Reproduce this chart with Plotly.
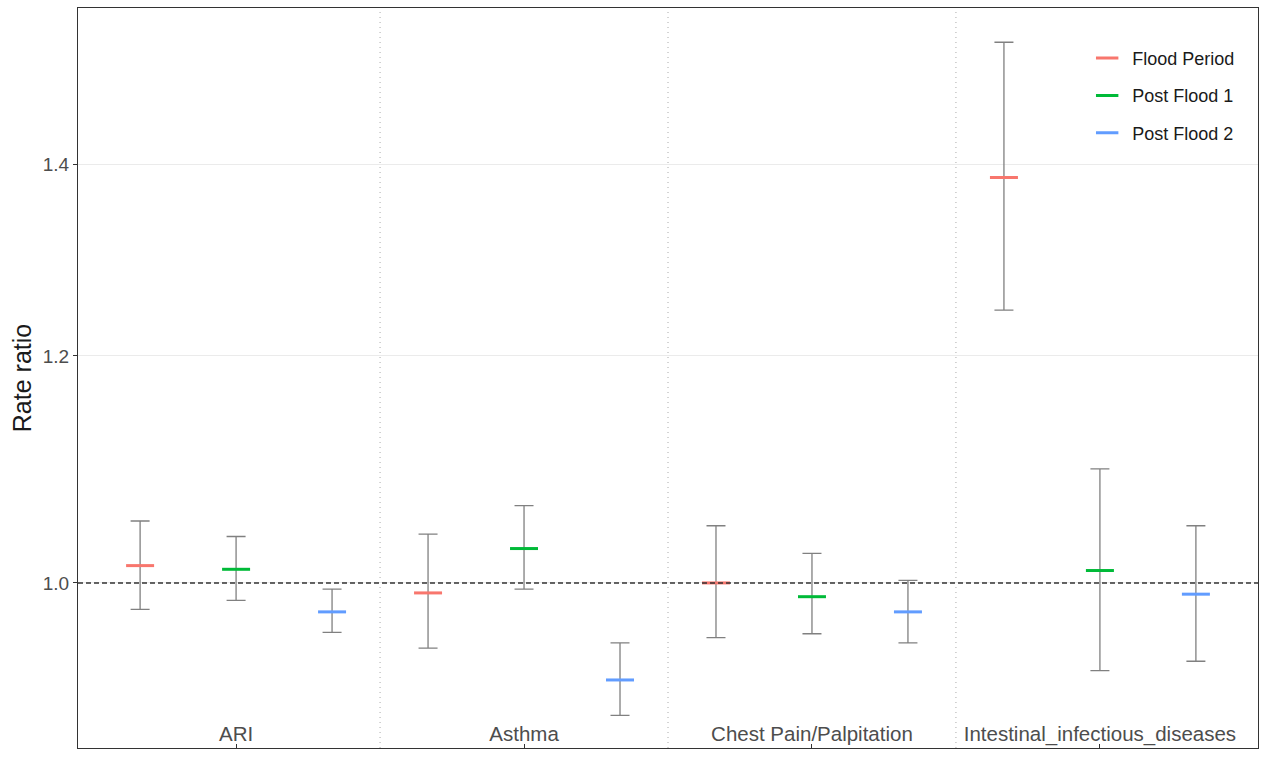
import plotly.graph_objects as go

categories = ["ARI", "Asthma", "Chest Pain/Palpitation", "Intestinal_infectious_diseases"]
periods = ["Flood Period", "Post Flood 1", "Post Flood 2"]
colors = ["#F8766D", "#00BA38", "#619CFF"]

# rate ratio estimates and 95% CI per period (order of categories)
rr = {
    "Flood Period": [1.014, 0.992, 1.000, 1.385],
    "Post Flood 1": [1.011, 1.028, 0.989, 1.010],
    "Post Flood 2": [0.977, 0.925, 0.977, 0.991],
}
lower = {
    "Flood Period": [0.979, 0.949, 0.957, 1.245],
    "Post Flood 1": [0.986, 0.995, 0.960, 0.932],
    "Post Flood 2": [0.961, 0.899, 0.953, 0.939],
}
upper = {
    "Flood Period": [1.051, 1.040, 1.047, 1.544],
    "Post Flood 1": [1.038, 1.064, 1.024, 1.096],
    "Post Flood 2": [0.995, 0.953, 1.002, 1.047],
}

y_ticks = [1.0, 1.2, 1.4]

fig = go.Figure()
for p, c in zip(periods, colors):
    y = rr[p]
    fig.add_trace(go.Scatter(
        x=categories, y=y, name=p, mode="markers", legendgroup=p,
        marker=dict(symbol="line-ew", size=20, color=c, line=dict(color=c, width=3)),
        error_y=dict(type="data", symmetric=False,
                     array=[u - v for u, v in zip(upper[p], y)],
                     arrayminus=[v - l for v, l in zip(y, lower[p])],
                     color="#808080", thickness=1.3, width=9.5),
    ))

shapes = [dict(type="line", xref="paper", x0=0, x1=1, yref="y", y0=1, y1=1,
               line=dict(color="#333333", width=1.5, dash="5px,3px"), layer="above")]
for i in range(len(categories) - 1):
    shapes.append(dict(type="line", xref="x", x0=i + 0.5, x1=i + 0.5, yref="paper", y0=0, y1=1,
                       line=dict(color="#aaaaaa", width=1, dash="1px,4px"), layer="below"))

fig.update_layout(
    width=1264, height=761,
    margin=dict(l=78, r=6, t=8, b=13),
    paper_bgcolor="white", plot_bgcolor="white",
    scattermode="group", scattergap=0,
    font=dict(family="Liberation Sans, Arial, sans-serif", color="#4d4d4d"),
    shapes=shapes,
    showlegend=True,
    legend=dict(x=0.851, y=0.957, xanchor="left", yanchor="top",
                bgcolor="rgba(0,0,0,0)", font=dict(size=18, color="#1a1a1a"),
                tracegroupgap=11, itemwidth=40),
    xaxis=dict(range=[-0.549, 3.549], showgrid=False, zeroline=False,
               ticks="inside", ticklen=4, tickcolor="#333333",
               ticklabelposition="inside", tickfont=dict(size=20.5, color="#4d4d4d"),
               showline=True, linecolor="#333333", linewidth=1.2, mirror=True),
    yaxis=dict(type="log", range=[-0.0576, 0.2006], tickvals=y_ticks,
               ticktext=[f"{v:.1f}" for v in y_ticks],
               showgrid=True, gridcolor="#ebebeb", gridwidth=1, zeroline=False,
               ticks="outside", ticklen=4, tickcolor="#333333",
               tickfont=dict(size=19, color="#4d4d4d"),
               title=dict(text="Rate ratio", font=dict(size=25, color="#1a1a1a"), standoff=3),
               showline=True, linecolor="#333333", linewidth=1.2, mirror=True),
)

fig.write_html("out.html")
